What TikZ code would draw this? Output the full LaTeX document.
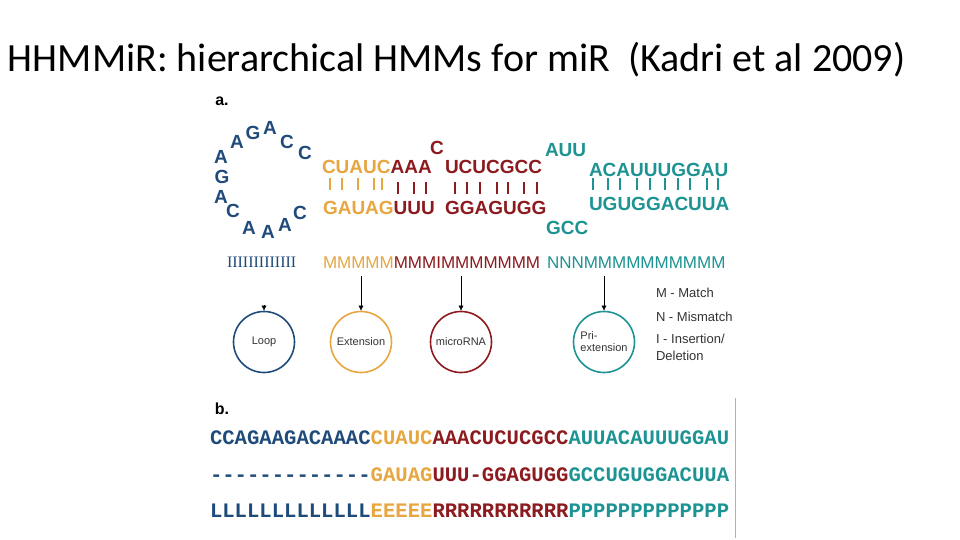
\documentclass[tikz,border=0pt]{standalone}
\usepackage{fontspec}
\usetikzlibrary{arrows.meta}
\setmainfont{Liberation Sans}
\newfontfamily\titlefont{Carlito}
\newfontfamily\seqfont{Liberation Mono}
\newfontfamily\loopfont{Liberation Serif}
\definecolor{loopblue}{HTML}{1F4B7B}
\definecolor{extorange}{HTML}{E8A640}
\definecolor{mirred}{HTML}{8C1A1E}
\definecolor{pritea}{HTML}{1E9393}
\tikzset{
  base/.style={inner sep=0pt, outer sep=0pt},
  nt/.style={base, font=\bfseries\fontsize{19}{19}\selectfont},
  state/.style={base, anchor=west, font=\fontsize{17}{17}\selectfont},
  hmm/.style={circle, draw, line width=1.6pt, minimum size=61pt, inner sep=0pt,
    text=black!80, font=\fontsize{11}{12}\selectfont},
  legend/.style={base, anchor=west, text=black!80, font=\fontsize{13}{17}\selectfont},
  seq/.style={base, anchor=west, font=\seqfont\bfseries\fontsize{20.6}{20.6}\selectfont},
}
\begin{document}
\begin{tikzpicture}[x=1pt, y=-1pt, >={Latex[length=5pt,width=5pt]}]
  \useasboundingbox[fill=white] (0,0) rectangle (960,540);
  \node[base, anchor=base west, font=\titlefont\fontsize{40}{40}\selectfont] (title)
    at (8,72) {HHMMiR: hierarchical HMMs for miR\ \ (Kadri et al 2009)};

  % a. hairpin
  \node[base, font=\bfseries\fontsize{16}{16}\selectfont] (parta) at (222,101) {a.};
  \foreach \x/\y/\b [count=\i] in {237/142/A, 253/133/G, 270/128/A, 287/142/C,
      305/153/C, 221/157/A, 222/177/G, 221/197/A, 233/211/C, 249/228/A,
      268/232/A, 285/225/A, 300/213/C}
    \node[nt, loopblue] (lp\i) at (\x,\y) {\b};
  \node[nt, extorange, anchor=west] (ext5) at (322,167) {CUAUC};
  \node[nt, mirred, anchor=west] (mir5a) at (ext5.east) {AAA};
  \node[nt, mirred] (bulge) at (437,148) {C};
  \node[nt, mirred, anchor=west] (mir5b) at (445,167) {UCUCGCC};
  \node[nt, pritea, anchor=west] (auu) at (545,150) {AUU};
  \node[nt, pritea, anchor=west] (pri5) at (589,170) {ACAUUUGGAU};
  \node[nt, extorange, anchor=west] (ext3) at (323,208) {GAUAG};
  \node[nt, mirred, anchor=west] (mir3a) at (ext3.east) {UUU};
  \node[nt, mirred, anchor=west] (mir3b) at (445,208) {GGAGUGG};
  \node[nt, pritea, anchor=west] (gcc) at (546,228) {GCC};
  \node[nt, pritea, anchor=west] (pri3) at (589,204) {UGUGGACUUA};
  \foreach \x in {330,342,358,374,382}
    \draw[extorange, line width=1.6pt] (\x,178) -- (\x,190);
  \foreach \x in {398,414,426,455,467,480,497,508,524,537}
    \draw[mirred, line width=1.6pt] (\x,182) -- (\x,194);
  \foreach \x in {593,608,620,637,650,665,678,690,707,718}
    \draw[pritea, line width=1.6pt] (\x,178) -- (\x,190);

  % states
  \node[base, anchor=west, loopblue, font=\loopfont\fontsize{16}{16}\selectfont] (loopst)
    at (227,262) {IIIIIIIIIIIII};
  \node[state, extorange] (extst) at (323,263) {MMMMM};
  \node[state, mirred] (mirst) at (extst.east) {MMMIMMMMMMM};
  \node[state, pritea] (prist) at (547,263) {NNNMMMMMMMMMM};

  \node[hmm, draw=loopblue] (loopstate) at (264,342) {Loop};
  \node[hmm, draw=extorange] (extstate) at (361,342) {Extension};
  \node[hmm, draw=mirred] (mirstate) at (461,342) {microRNA};
  \node[hmm, draw=pritea, align=left] (pristate) at (604,342) {Pri-\\extension};
  \coordinate (loopsrc) at (264,305);
  \coordinate (extsrc) at (361,276);
  \coordinate (mirsrc) at (461,276);
  \coordinate (prisrc) at (604,276);
  \draw[->] (loopsrc) -- (loopstate);
  \draw[->] (extsrc) -- (extstate);
  \draw[->] (mirsrc) -- (mirstate);
  \draw[->] (prisrc) -- (pristate);

  \node[legend] (lgm) at (656,293) {M - Match};
  \node[legend] (lgn) at (656,317) {N - Mismatch};
  \node[legend, align=left] (lgi) at (656,347) {I - Insertion/\\Deletion};

  % b. alignment
  \node[base, font=\bfseries\fontsize{16}{16}\selectfont] (partb) at (222,409) {b.};
  \node[seq] (seqtop) at (210,438) {\textcolor{loopblue}{CCAGAAGACAAAC}%
    \textcolor{extorange}{CUAUC}\textcolor{mirred}{AAACUCUCGCC}%
    \textcolor{pritea}{AUUACAUUUGGAU}};
  \node[seq] (seqbot) at (210,475) {\textcolor{loopblue}{-{}-{}-{}-{}-{}-{}-{}-{}-{}-{}-{}-{}-}%
    \textcolor{extorange}{GAUAG}\textcolor{mirred}{UUU-GGAGUGG}%
    \textcolor{pritea}{GCCUGUGGACUUA}};
  \node[seq] (seqlab) at (210,511) {\textcolor{loopblue}{LLLLLLLLLLLLL}%
    \textcolor{extorange}{EEEEE}\textcolor{mirred}{RRRRRRRRRRR}%
    \textcolor{pritea}{PPPPPPPPPPPPP}};
  \draw[gray!60, line width=0.8pt] (735,398) -- (735,538);
\end{tikzpicture}
\end{document}
